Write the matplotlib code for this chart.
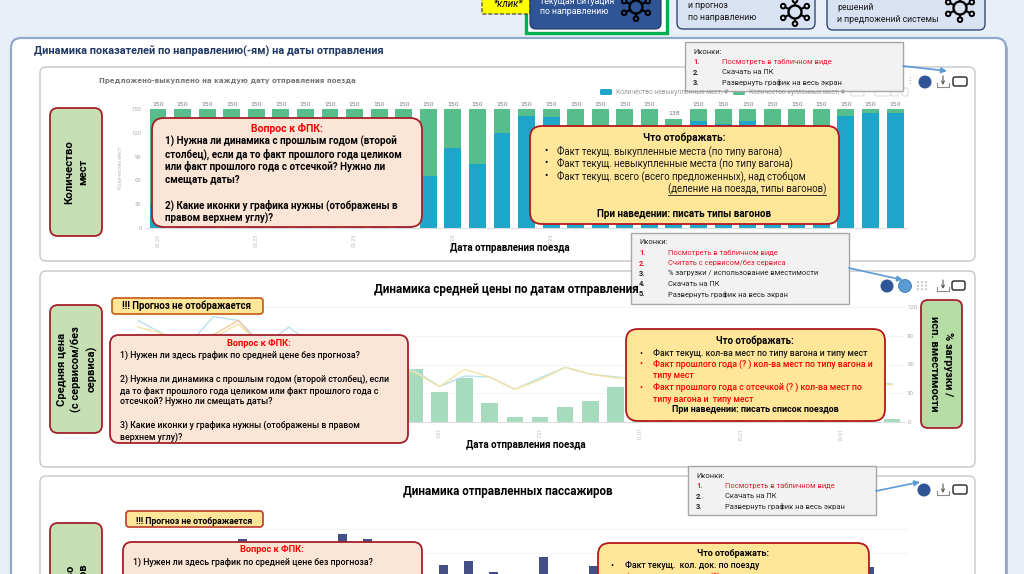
import numpy as np
import matplotlib
matplotlib.use('Agg')
import matplotlib.pyplot as plt
from matplotlib.patches import FancyBboxPatch, Rectangle, Circle

plt.rcParams['font.family'] = ['Roboto', 'DejaVu Sans']

# данные: график 1 (места)
total_1 = [150] * 31
total_1[21] = 138
unsold_1 = [30, 25, 20, 22, 18, 20, 25, 22, 20, 18, 22, 66, 101, 81, 120, 141, 140,
            70, 75, 90, 85, 80, 135, 131, 135, 100, 90, 95, 141, 145, 145]
ticks_y_1 = [0, 30, 60, 90, 120, 150]
dates_1 = ['01.23', '05.23', '09.23', '13.23', '17.23', '21.23', '25.23', '29.23']

# данные: график 2 (средняя цена)
load_2 = [5, 8, 12, 15, 20, 25, 18, 22, 30, 35, 40, 55, 31, 46, 20, 5, 5, 16, 22, 37, 20,
          15, 12, 18, 10, 8, 6, 9, 5, 4, 3]
line_blue_2 = [106, 92, 80, 110, 106, 80, 99, 80, 70, 62, 58, 54, 37, 48, 47, 34, 46, 57, 50, 47, 45,
               44, 42, 43, 42, 41, 42, 41, 41, 40, 40]
line_yellow_2 = [99, 92, 78, 88, 102, 78, 90, 78, 69, 60, 57, 52, 37, 55, 47, 34, 44, 57, 50, 46, 46,
                 43, 43, 42, 43, 42, 41, 42, 40, 41, 39]
line_orange_days = [2, 3, 4, 5]
line_orange_2 = [72, 91, 106, 75]
ticks_y_2 = [0, 30, 60, 90, 120]
dates_2 = ['22.12', '26.12', '30.12', '3.01', '7.01', '11.01', '15.01', '19.01']

# данные: график 3 (пассажиры)
pass_3 = [120, 180, 200, 260, 358, 230, 300, 320, 379, 358, 240, 210, 250, 267, 221, 180,
          283, 170, 246, 235, 225, 215, 230, 240, 225, 235, 220, 210, 215, 242, 190]

BG = '#E9EFF8'
NAVY = '#1F3864'
RED = '#A5202B'

fig = plt.figure(figsize=(10.24, 5.74), dpi=100, facecolor=BG)
# нижний слой с панелями, средний с графиками, верхний с блоками
back = fig.add_axes([0, 0, 1, 1], zorder=0)
page = fig.add_axes([0, 0, 1, 1], zorder=3)
for a in [back, page]:
    a.set_xlim(0, 1024)
    a.set_ylim(574, 0)
    a.axis('off')


def box(x0, y0, x1, y1, fc, ec='none', lw=1.0, r=8, z=1, ls='-', ax=None):
    p = FancyBboxPatch((x0 + r, y0 + r), x1 - x0 - 2 * r, y1 - y0 - 2 * r, boxstyle=f'round,pad={r},rounding_size={r}',
                       fc=fc, ec=ec, lw=lw, zorder=z, ls=ls)
    (ax or page).add_patch(p)


def txt(x, y, s, size=7.0, color='black', weight='normal', ha='left', rot=0, z=20, style='normal', spacing=1.45):
    return page.text(x, y, s, fontsize=size, color=color, fontweight=weight, ha=ha, va='center', rotation=rot,
                     zorder=z, fontstyle=style, linespacing=spacing, rotation_mode='anchor' if rot else 'default')


def chart_axes(x0, y0, x1, y1):
    a = fig.add_axes([x0 / 1024, 1 - y1 / 574, (x1 - x0) / 1024, (y1 - y0) / 574], zorder=2)
    a.patch.set_alpha(0)
    for s in a.spines.values():
        s.set_visible(False)
    return a


def network(cx, cy, fc, r=6.5, color='black'):
    angles = np.radians([30, 90, 150, 210, 270, 330])
    for an in angles:
        ex, ey = cx + 2.1 * r * np.cos(an), cy + 1.8 * r * np.sin(an)
        page.plot([cx, ex], [cy, ey], color=color, lw=1.5, zorder=12, solid_capstyle='round')
        page.add_patch(Circle((ex, ey), 2.3, fc=fc, ec=color, lw=1.4, zorder=13))
    page.add_patch(Circle((cx, cy), r, fc=fc, ec=color, lw=1.7, zorder=13))


def download(cx, cy):
    page.plot([cx - 6, cx - 6, cx + 6, cx + 6], [cy + 1, cy + 5, cy + 5, cy + 1], color='#8A8A8A', lw=0.8, zorder=12)
    page.annotate('', xy=(cx, cy + 3), xytext=(cx, cy - 6), zorder=12,
                  arrowprops=dict(arrowstyle='->', color='#555555', lw=0.8, mutation_scale=5, shrinkA=0, shrinkB=0))


def full_screen(x0, y0, x1, y1):
    box(x0, y0, x1, y1, 'white', '#222222', 1.0, r=2, z=12)


def callout(x0, y0, x1, y1, lines, size=5.45):
    page.add_patch(Rectangle((x0, y0), x1 - x0, y1 - y0, fc='#F2F2F2', ec='#A6A6A6', lw=1.0, zorder=15))
    txt(x0 + 8, y0 + 9.5, 'Иконки:', size, '#222222', z=16)
    for i, (s, c) in enumerate(lines):
        yy = y0 + 19.8 + 10.3 * i
        txt(x0 + 8, yy, f'{i + 1}.', size, c, 'bold', z=16)
        txt(x0 + 37, yy, s, size, c, z=16)


def arrow(x0, y0, x1, y1):
    page.annotate('', xy=(x1, y1), xytext=(x0, y0), zorder=16,
                  arrowprops=dict(arrowstyle='-|>', color='#5B9BD5', lw=1.2, mutation_scale=8, shrinkA=0, shrinkB=0))


# верхние кнопки
box(482, -20, 530, 14, '#FFFF00', '#333333', 0.8, r=1, z=3, ls='--', ax=back)
txt(508, 4, '*клик*', 7, 'black', 'normal', 'center', style='italic')
back.add_patch(Rectangle((526, -10), 141, 43, fc='white', ec='#00B050', lw=2.4, zorder=2))
box(530, -20, 661, 29, '#2F5597', '#1F3864', 0.8, r=6, z=3, ax=back)
txt(540, 1, 'текущая ситуация', 6.3, 'white')
txt(540, 12, 'по направлению', 6.3, 'white')
network(636, 7, '#2F5597')
box(677, -20, 815, 29, '#D9E2F3', NAVY, 0.9, r=6, z=3, ax=back)
txt(688, 6, 'и прогноз', 6.3, '#1a1a1a')
txt(688, 18, 'по направлению', 6.3, '#1a1a1a')
network(795, 12, '#D9E2F3')
box(827, -20, 985, 30, '#D9E2F3', NAVY, 0.9, r=6, z=3, ax=back)
txt(837, 7, 'решений', 6.3, '#1a1a1a')
txt(837, 19, 'и предложений системы', 6.3, '#1a1a1a')
network(960, 8, '#D9E2F3')

# основная панель
box(14, 40, 1008, 620, '#A9B3C4', 'none', 0, r=10, z=1, ax=back)
box(11, 38, 1006, 620, 'white', '#8FA8CC', 1.6, r=10, z=1, ax=back)
txt(34, 51, 'Динамика показателей по направлению(-ям) на даты отправления', 7.85, NAVY, 'bold')
for y0, y1 in [(67, 261), (271, 467), (476, 640)]:
    box(40, y0, 975, y1, 'white', '#C4C7CC', 1.0, r=6, z=1, ax=back)

# график 1
ax1 = chart_axes(145.7, 109, 907.4, 228)
x1 = np.arange(31)
sold_1 = np.array(total_1) - np.array(unsold_1)
ax1.bar(x1, unsold_1, 0.69, color='#1FA5C9')
ax1.bar(x1, sold_1, 0.69, bottom=unsold_1, color='#57BD8B')
for xi, t in zip(x1, total_1):
    ax1.text(xi, t + 6, str(t), ha='center', va='center', fontsize=4.4, color='#777777', family='DejaVu Sans')
ax1.set_xlim(-0.5, 30.5)
ax1.set_ylim(0, 150)
ax1.set_yticks(ticks_y_1)
ax1.tick_params(axis='y', length=0, labelsize=4.2, labelcolor='#AAAAAA', pad=3)
ax1.set_xticks(x1[::4])
ax1.set_xticklabels(dates_1, rotation=90, fontsize=3.8, color='#BBBBBB')
ax1.tick_params(axis='x', length=0, pad=4)
ax1.spines['bottom'].set_visible(True)
ax1.spines['bottom'].set_color('#DDDDDD')
txt(121, 168, 'Количество мест', 3.8, '#BBBBBB', ha='center', rot=90)
txt(99, 81, 'Предложено-выкуплено на каждую дату отправления поезда', 5.0, '#777777', 'bold').set_family(['DejaVu Sans'])
box(600, 89, 612, 95, '#1FA5C9', r=1.5, z=3)
txt(616, 92, 'Количество невыкупленных мест, #', 4.8, '#999999')
box(733, 89, 745, 95, '#57BD8B', r=1.5, z=3)
txt(749, 92, 'Количество купленных мест, #', 4.8, '#999999')
for a, b in [(851, 864), (875, 891), (891, 898), (902, 908)]:
    box(a, 88, b, 96, 'white', '#D5D5D5', 0.6, r=2, z=3)
txt(510, 248, 'Дата отправления поезда', 7.0, 'black', 'bold', 'center')

# блоки подписи графика 1
box(50, 108, 102, 236, '#C5E0B4', RED, 1.3, r=8, z=10)
txt(76, 172, 'Количество\nмест', 8.2, 'black', 'bold', 'center', rot=90)
box(152, 118, 422, 227, '#FBE5D6', RED, 1.3, r=12, z=10)
txt(287, 128, 'Вопрос к ФПК:', 7.5, '#FF0000', 'bold', 'center')
for yy, s in zip([141, 154, 166, 179, 205, 218],
                 ['1) Нужна ли динамика с прошлым годом (второй', 'столбец), если да то факт прошлого года целиком',
                  'или факт прошлого года с отсечкой? Нужно ли', 'смещать даты?',
                  '2) Какие иконки у графика нужны (отображены в', 'правом верхнем углу)?']):
    txt(165, yy, s, 7.1, 'black', 'bold')
box(530, 126, 839, 224, '#FFE699', '#B5171E', 1.3, r=12, z=10)
txt(684, 138, 'Что отображать:', 7.4, 'black', 'bold', 'center')
for yy, s in zip([151, 163, 176], ['Факт текущ. выкупленные места (по типу вагона)', 'Факт текущ. невыкупленные места (по типу вагона)',
                                   'Факт текущ. всего (всего предложенных), над стобцом']):
    txt(544, yy, '•', 7, 'black')
    txt(557, yy, s, 6.9, '#1a1a1a')
txt(826, 189, '(деление на поезда, типы вагонов)', 6.9, '#1a1a1a', ha='right')
page.plot([668, 826], [194.5, 194.5], color='#1a1a1a', lw=0.6, zorder=20)
txt(684, 214, 'При наведении: писать типы вагонов', 7.1, 'black', 'bold', 'center')
callout(685, 42, 903, 91, [('Посмотреть в табличном виде', '#E8192C'), ('Скачать на ПК', '#222222'),
                           ('Развернуть график на весь экран', '#222222')])
arrow(903, 66, 947, 71)
page.add_patch(Circle((925, 82), 6.5, fc='#2F5597', ec='none', zorder=12))
download(943, 82)
full_screen(953, 77, 967, 86)
page.text(909, 81, '⋮', fontsize=6, color='#999999', ha='center', va='center', zorder=12)

# график 2
ax2 = chart_axes(125.4, 307, 904.4, 422)
x2 = np.arange(31)
ax2.bar(x2, load_2, 0.66, color='#A6DCBD')
ax2.plot(x2, line_blue_2, color='#B9E0EA', lw=1.0)
ax2.plot(line_orange_days, line_orange_2, color='#F3C9A0', lw=1.0)
ax2.plot(x2, line_yellow_2, color='#F2E3A0', lw=1.0)
ax2.set_xlim(-0.5, 30.5)
ax2.set_ylim(0, 120)
ax2.yaxis.tick_right()
ax2.set_yticks(ticks_y_2)
ax2.grid(axis='y', color='#F3F3F3', lw=0.7)
ax2.set_axisbelow(True)
ax2.tick_params(axis='y', length=0, labelsize=4.4, labelcolor='#AAAAAA', pad=2)
ax2.set_xticks(x2[::4])
ax2.set_xticklabels(dates_2, rotation=90, fontsize=3.8, color='#BBBBBB')
ax2.tick_params(axis='x', length=0, pad=4)
ax2.spines['bottom'].set_visible(True)
ax2.spines['bottom'].set_color('#DDDDDD')
txt(374, 290, 'Динамика средней цены по датам отправления', 8.4, 'black', 'bold')
txt(526, 445, 'Дата отправления поезда', 7.0, 'black', 'bold', 'center')
box(112, 298, 263, 314, '#FFE699', '#C55A11', 1.2, r=3, z=10)
txt(187, 306, '!!! Прогноз не отображается', 6.9, 'black', 'bold', 'center')
box(50, 305, 102, 433, '#C5E0B4', RED, 1.3, r=8, z=10)
txt(77, 369, 'Средняя цена\n(с сервисом/без\nсервиса)', 8.0, 'black', 'bold', 'center', rot=90)
box(110, 335, 408, 443, '#FBE5D6', RED, 1.3, r=9, z=10)
txt(259, 343, 'Вопрос к ФПК:', 6.7, '#FF0000', 'bold', 'center')
for yy, s in zip([355, 379, 391, 402, 425, 437],
                 ['1) Нужен ли здесь график по средней цене без прогноза?',
                  '2) Нужна ли динамика с прошлым годом (второй столбец), если',
                  'да то факт прошлого года целиком или факт прошлого года с',
                  'отсечкой? Нужно ли смещать даты?',
                  '3) Какие иконки у графика нужны (отображены в правом',
                  'верхнем углу)?']):
    txt(120, yy, s, 6.3, 'black', 'medium')
box(626, 329, 885, 421, '#FFE699', '#B5171E', 1.3, r=12, z=10)
txt(755, 341, 'Что отображать:', 6.9, 'black', 'bold', 'center')
for yy, s, c, bullet in [(353, 'Факт текущ. кол-ва мест по типу вагона и типу мест', '#1a1a1a', True),
                         (364, 'Факт прошлого года (? ) кол-ва мест по типу вагона и', '#FF0000', True),
                         (376, 'типу мест', '#FF0000', False),
                         (387, 'Факт прошлого года с отсечкой (? ) кол-ва мест по', '#FF0000', True),
                         (399, 'типу вагона и  типу мест', '#FF0000', False)]:
    if bullet:
        txt(639, yy, '•', 6.5, c)
    txt(653, yy, s, 6.2, c, 'medium')
txt(755, 410, 'При наведении: писать список поездов', 6.4, 'black', 'bold', 'center')
callout(631, 233, 849, 304, [('Посмотреть в табличном виде', '#E8192C'), ('Считать с сервисом/без сервиса', '#E8192C'),
                             ('% загрузки / использование вместимости', '#222222'), ('Скачать на ПК', '#222222'),
                             ('Развернуть график на весь экран', '#222222')])
arrow(849, 268, 903, 280)
page.add_patch(Circle((887, 286), 6.5, fc='#2F5597', ec='none', zorder=12))
page.add_patch(Circle((905, 286), 6.5, fc='#5B9BD5', ec='#2F6DAD', lw=0.5, zorder=12))
for dx in [-4, 0, 4]:
    page.plot([922 + dx, 922 + dx], [281, 291], color='#D0D0D0', lw=1.6, ls=(0, (1, 0.6)), zorder=12)
download(943, 286)
full_screen(952, 281, 965, 290)
box(921, 300, 962, 428, '#B7DDA6', RED, 1.3, r=7, z=10)
txt(941, 364, '% загрузки /\nисп. вместимости', 8.0, 'black', 'bold', 'center', rot=-90)

# график 3
ax3 = chart_axes(129.4, 505, 907.5, 625)
x3 = np.arange(31)
ax3.bar(x3, pass_3, 0.36, color='#434F85')
ax3.set_xlim(-0.5, 30.5)
ax3.set_ylim(0, 500)
ax3.set_yticks([100, 200, 300, 400])
ax3.set_yticklabels([])
ax3.set_xticks([])
ax3.grid(axis='y', color='#F3F3F3', lw=0.7)
ax3.set_axisbelow(True)
ax3.tick_params(axis='y', length=0)
txt(508, 492, 'Динамика отправленных пассажиров', 8.4, 'black', 'bold', 'center')
box(126, 511, 263, 527, '#FFE699', '#C0392B', 1.2, r=3, z=10)
txt(194, 522, '!!! Прогноз не отображается', 6.3, 'black', 'bold', 'center')
box(50, 523, 102, 660, '#C5E0B4', RED, 1.3, r=8, z=10)
txt(77, 596, 'Количество\nпассажиров', 8.0, 'black', 'bold', 'center', rot=90)
box(123, 542, 422, 650, '#FBE5D6', RED, 1.3, r=9, z=10)
txt(272, 550, 'Вопрос к ФПК:', 6.7, '#FF0000', 'bold', 'center')
txt(133, 562, '1) Нужен ли здесь график по средней цене без прогноза?', 6.3, 'black', 'medium')
box(598, 543, 869, 650, '#FFE699', '#B5171E', 1.3, r=12, z=10)
txt(733, 553, 'Что отображать:', 6.5, 'black', 'bold', 'center')
txt(610, 565, '•', 6.5, 'black')
txt(625, 565, 'Факт текущ.  кол. док. по поезду', 6.2, 'black', 'medium')
txt(625, 577, 'Факт прошлого года (?)', 6.2, '#FF0000')
callout(688, 466, 876, 515, [('Посмотреть в табличном виде', '#E8192C'), ('Скачать на ПК', '#222222'),
                             ('Развернуть график на весь экран', '#222222')])
arrow(876, 491, 920, 482)
page.add_patch(Circle((924, 490), 6.5, fc='#2F5597', ec='none', zorder=12))
download(943, 490)
full_screen(953, 485, 967, 494)

fig.savefig('out.png', dpi=100, facecolor=BG)
